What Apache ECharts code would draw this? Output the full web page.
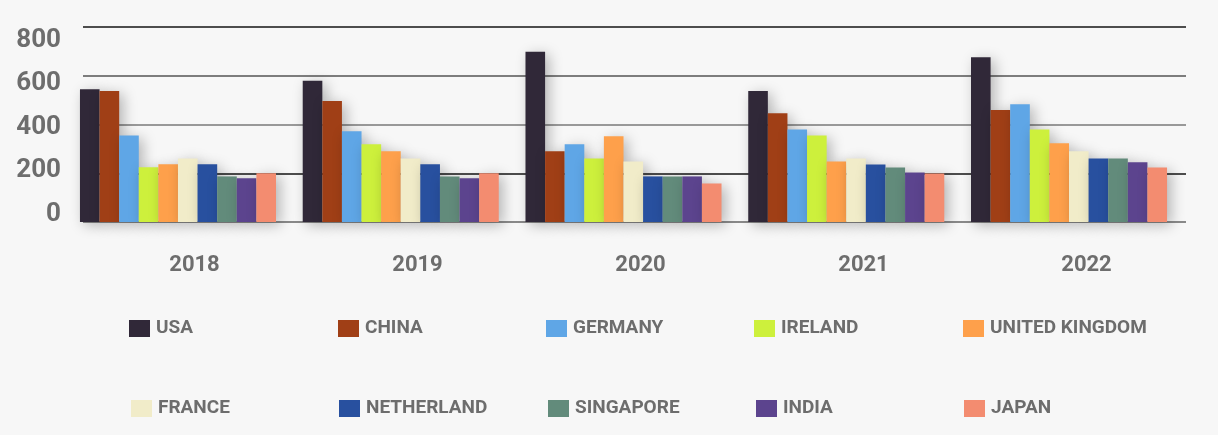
<!DOCTYPE html>
<html>
<head>
<meta charset="utf-8">
<script src="https://cdn.jsdelivr.net/npm/echarts@6/dist/echarts.min.js"></script>
<style>
  html, body { margin: 0; padding: 0; background: #fbfbfb; }
  #chart { width: 1218px; height: 435px; }
</style>
</head>
<body>
<div id="chart"></div>
<script>
// ---- data ----
const years = ['2018', '2019', '2020', '2021', '2022'];
const countries = ['USA', 'CHINA', 'GERMANY', 'IRELAND', 'UNITED KINGDOM', 'FRANCE', 'NETHERLAND', 'SINGAPORE', 'INDIA', 'JAPAN'];
const usa        = [545, 579, 698, 537, 676];
const china      = [537, 496, 290, 446, 459];
const germany    = [355, 372, 319, 380, 483];
const ireland    = [225, 319, 261, 355, 380];
const uk         = [237, 290, 352, 248, 323];
const france     = [261, 261, 248, 261, 290];
const netherland = [237, 237, 187, 236, 261];
const singapore  = [187, 187, 187, 224, 261];
const india      = [179, 179, 187, 203, 245];
const japan      = [200, 200, 158, 199, 224];
const yTicks = [0, 200, 400, 600, 800];

const seriesValues = [usa, china, germany, ireland, uk, france, netherland, singapore, india, japan];
const palette = ['#302838', '#a03f16', '#5fa6e6', '#cdf03c', '#fea04b', '#f1ecc9', '#28509f', '#628b7b', '#5c448e', '#f38c70'];

const FONT = "Roboto, 'Liberation Sans', sans-serif";
const TEXT_COLOR = '#6d6d6d';

const chart = echarts.init(document.getElementById('chart'), null, { renderer: 'canvas' });

const legendLefts = [[129, 338, 546, 754, 963], [131, 339, 548, 756, 964]];
const legendTops = [319, 399];
const legends = countries.map((name, i) => {
  const row = Math.floor(i / 5), col = i % 5;
  return {
    data: [name],
    left: legendLefts[row][col],
    top: legendTops[row],
    padding: 0,
    itemWidth: 21,
    itemHeight: 17,
    icon: 'rect',
    selectedMode: false,
    textStyle: { fontFamily: FONT, fontWeight: 'bold', fontSize: 19, color: TEXT_COLOR, padding: [0, 0, 0, 1] }
  };
});

const option = {
  backgroundColor: '#f7f7f7',
  animation: false,
  legend: legends,
  grid: [
    { left: 66.6, right: 37.6, top: 27, bottom: 213 },
    { left: 83, right: 32, top: 27, bottom: 213 },
    { left: 83, right: 20, top: 40, bottom: 221 }
  ],
  xAxis: [
    { type: 'category', gridIndex: 0, data: years, show: false },
    { type: 'category', gridIndex: 1, data: years, show: false },
    {
      type: 'category', gridIndex: 2, data: years,
      axisLine: { show: false }, axisTick: { show: false }, splitLine: { show: false },
      axisLabel: { margin: 40, fontFamily: FONT, fontWeight: 'bold', fontSize: 22, color: TEXT_COLOR }
    }
  ],
  yAxis: [
    { type: 'value', gridIndex: 0, min: yTicks[0], max: yTicks[yTicks.length - 1], show: false },
    {
      type: 'value', gridIndex: 1, min: yTicks[0], max: yTicks[yTicks.length - 1], interval: 200,
      axisLine: { show: false }, axisTick: { show: false }, axisLabel: { show: false },
      splitLine: { show: true, lineStyle: { width: 1.6, color: ['#666666', '#151515', '#7a7a7a', '#555555', '#151515'] } }
    },
    {
      type: 'value', gridIndex: 2, min: yTicks[0], max: yTicks[yTicks.length - 1], interval: 200,
      axisLine: { show: false }, axisTick: { show: false }, splitLine: { show: false },
      axisLabel: { margin: 22, fontFamily: FONT, fontWeight: 'bold', fontSize: 26, color: TEXT_COLOR }
    }
  ],
  series: countries.map((name, i) => ({
    name: name,
    type: 'bar',
    xAxisIndex: 0,
    yAxisIndex: 0,
    data: seriesValues[i],
    barGap: '0%',
    barCategoryGap: '12%',
    itemStyle: {
      color: palette[i],
      shadowBlur: 14,
      shadowColor: 'rgba(0,0,0,0.28)',
      shadowOffsetX: 4,
      shadowOffsetY: 3
    },
    z: 2
  }))
};

chart.setOption(option);
</script>
</body>
</html>
